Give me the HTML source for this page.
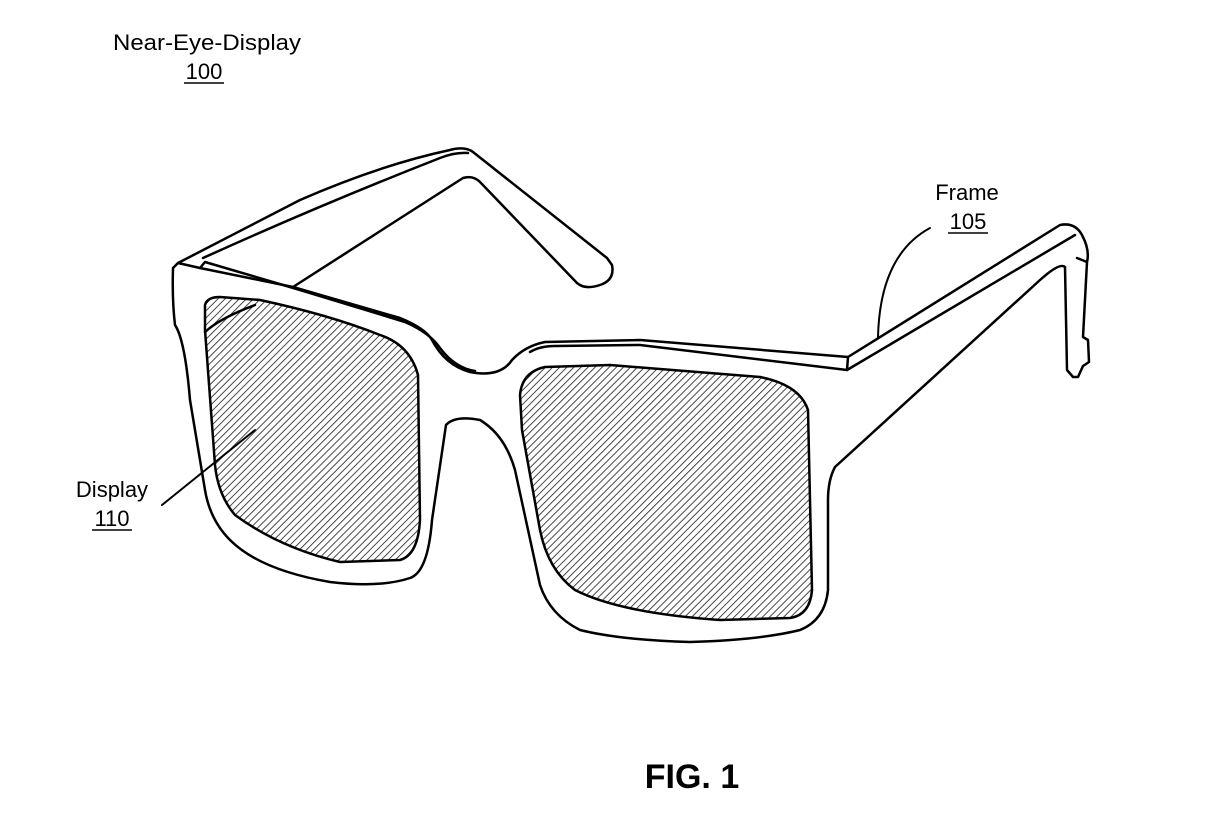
<!DOCTYPE html>
<html><head><meta charset="utf-8"><style>
html,body{margin:0;padding:0;background:#fff;}
svg{display:block}
text{font-family:"Liberation Sans",Arial,sans-serif;fill:#000}
</style></head><body>
<svg width="1230" height="830" viewBox="0 0 1230 830" xmlns="http://www.w3.org/2000/svg">
<defs>
<pattern id="h" patternUnits="userSpaceOnUse" width="5" height="5" patternTransform="rotate(45)">
<line x1="0" y1="0" x2="0" y2="5" stroke="#333" stroke-width="1.8"/>
</pattern>
</defs>
<g fill="none" stroke="#000" stroke-width="2.5" stroke-linejoin="round" stroke-linecap="round">
<path d="M293,287 L463,178 Q473,175 480,182 L577,283 Q585,290 600,285 Q615,280 612,265 L607,258 L473,152 Q465,146 450,150 Q380,165 300,200 L178,263"/>
<path d="M203,258 Q320,205 440,158 Q455,152 468,153"/>
<path fill="#fff" d="M173,268 L178,263 L200,268 L293,287 L400,318 Q425,328 432,340 Q445,365 470,372 Q500,378 512,360 Q525,346 545,342 L640,340 L848,357 L1060,225 Q1075,222 1082,235 Q1090,250 1087,262 L1083,337 L1088,340 L1089,362 L1083,366 L1078,377 L1073,377 L1067,370 L1065,267 Q1060,262 1040,280 L835,467 Q828,480 828,500 L828,590 Q825,620 800,630 Q760,640 690,642 Q620,640 580,630 Q550,615 540,585 L515,470 Q505,435 480,420 Q455,415 446,425 L432,520 Q428,572 410,578 Q380,588 330,582 Q260,570 230,540 Q210,520 205,490 L190,400 Q185,340 175,325 Q172,300 173,268 Z"/>
<path d="M200,268 L205,262 L300,290 L405,322 Q430,333 440,348 Q455,368 475,371"/>
<path d="M530,352 Q540,346 555,346 L640,345 L847,370 L1075,235"/>
<path d="M848,357 L847,370"/>
<path d="M1077,258 L1087,262"/>
<path fill="url(#h)" d="M205,305 Q207,297 220,297 L260,300 Q330,315 380,335 Q410,345 418,375 L420,520 Q418,555 400,560 L340,562 Q280,548 235,515 Q218,495 215,465 L205,330 Z"/>
<path d="M205,332 Q220,318 255,305"/>
<path fill="url(#h)" d="M520,395 Q522,372 545,367 L610,365 L760,377 Q800,385 808,410 L812,590 Q810,615 790,618 L720,620 Q620,613 575,590 Q548,570 540,530 L522,430 Z"/>
<path stroke-width="2" d="M162,505 L255,430"/>
<path stroke-width="2" d="M930,228 Q880,255 878,337"/>
</g>
<text x="207" y="50" font-size="22" text-anchor="middle" textLength="188" lengthAdjust="spacingAndGlyphs">Near-Eye-Display</text>
<text x="204" y="79" font-size="22" text-anchor="middle">100</text>
<line x1="184" y1="83" x2="224" y2="83" stroke="#000" stroke-width="1.5"/>
<text x="967" y="200" font-size="22" text-anchor="middle">Frame</text>
<text x="968" y="229" font-size="22" text-anchor="middle">105</text>
<line x1="948" y1="233" x2="988" y2="233" stroke="#000" stroke-width="1.5"/>
<text x="112" y="497" font-size="22" text-anchor="middle">Display</text>
<text x="112" y="526" font-size="22" text-anchor="middle">110</text>
<line x1="92" y1="530" x2="132" y2="530" stroke="#000" stroke-width="1.5"/>
<text x="692" y="788" font-size="34" font-weight="bold" text-anchor="middle">FIG. 1</text>
</svg>
</body></html>
